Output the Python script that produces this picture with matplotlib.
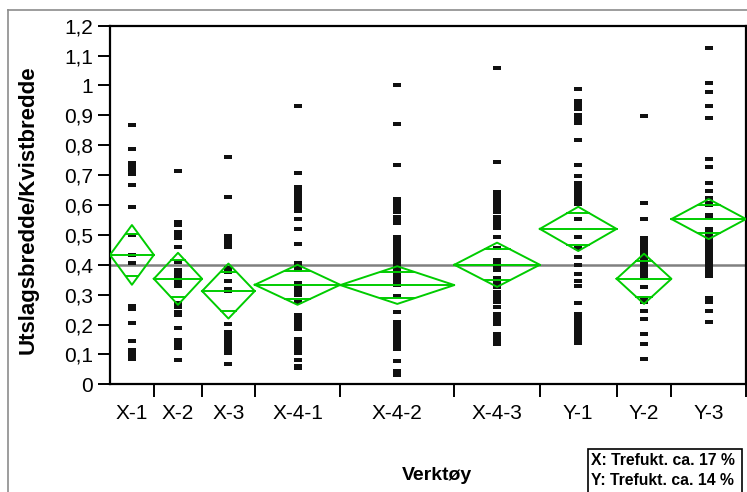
import matplotlib
matplotlib.use("Agg")
import matplotlib.pyplot as plt
import numpy as np
from matplotlib.lines import Line2D
from matplotlib.patches import Rectangle

plt.rcParams['font.family'] = ['Liberation Sans', 'DejaVu Sans']

# --- data ---
groups = ["X-1", "X-2", "X-3", "X-4-1", "X-4-2", "X-4-3", "Y-1", "Y-2", "Y-3"]

x1 = [0.867, 0.787, 0.742, 0.732, 0.722, 0.712, 0.705, 0.666, 0.592, 0.500,
      0.433, 0.405, 0.262, 0.252, 0.206, 0.146, 0.115, 0.104, 0.093, 0.085]
x2 = [0.714, 0.544, 0.533, 0.511, 0.500, 0.489, 0.460, 0.410, 0.383, 0.371,
      0.360, 0.343, 0.330, 0.271, 0.258, 0.243, 0.232, 0.187, 0.148, 0.135,
      0.120, 0.081]
x3 = [0.759, 0.627, 0.496, 0.490, 0.486, 0.472, 0.458, 0.388, 0.381, 0.375,
      0.346, 0.318, 0.313, 0.201, 0.176, 0.165, 0.160, 0.154, 0.143, 0.137,
      0.131, 0.118, 0.104, 0.067]
x41 = [0.932, 0.706, 0.661, 0.650, 0.645, 0.639, 0.628, 0.617, 0.606, 0.594,
       0.581, 0.553, 0.520, 0.469, 0.405, 0.400, 0.394, 0.383, 0.338, 0.327,
       0.320, 0.313, 0.299, 0.277, 0.232, 0.221, 0.215, 0.210, 0.197, 0.185,
       0.152, 0.140, 0.135, 0.129, 0.117, 0.104, 0.081, 0.060, 0.053]
x42 = [1.000, 0.872, 0.733, 0.619, 0.608, 0.603, 0.597, 0.586, 0.580, 0.575,
       0.561, 0.550, 0.539, 0.494, 0.490, 0.483, 0.478, 0.472, 0.461, 0.455,
       0.450, 0.439, 0.432, 0.425, 0.414, 0.408, 0.400, 0.386, 0.379, 0.372,
       0.359, 0.352, 0.345, 0.331, 0.296, 0.243, 0.210, 0.205, 0.199, 0.187,
       0.181, 0.176, 0.165, 0.160, 0.154, 0.143, 0.138, 0.132, 0.118, 0.079,
       0.046, 0.031]
x43 = [1.060, 0.745, 0.645, 0.640, 0.633, 0.622, 0.611, 0.600, 0.595, 0.589,
       0.575, 0.561, 0.550, 0.536, 0.522, 0.494, 0.455, 0.416, 0.410, 0.405,
       0.394, 0.383, 0.355, 0.338, 0.327, 0.308, 0.302, 0.297, 0.286, 0.274,
       0.260, 0.235, 0.224, 0.213, 0.202, 0.168, 0.157, 0.146, 0.135]
y1 = [0.987, 0.948, 0.935, 0.920, 0.901, 0.887, 0.874, 0.818, 0.734, 0.697,
      0.673, 0.662, 0.650, 0.639, 0.628, 0.617, 0.603, 0.553, 0.494, 0.455,
      0.425, 0.399, 0.369, 0.347, 0.329, 0.273, 0.235, 0.224, 0.213, 0.202,
      0.191, 0.180, 0.166, 0.152, 0.139]
y2 = [0.899, 0.607, 0.553, 0.489, 0.477, 0.466, 0.453, 0.442, 0.430, 0.419,
      0.413, 0.408, 0.397, 0.386, 0.375, 0.361, 0.327, 0.288, 0.283, 0.277,
      0.246, 0.219, 0.168, 0.135, 0.085]
y3 = [1.126, 1.007, 0.979, 0.932, 0.892, 0.754, 0.728, 0.673, 0.648, 0.622,
      0.608, 0.600, 0.567, 0.559, 0.520, 0.508, 0.497, 0.486, 0.475, 0.464,
      0.453, 0.441, 0.430, 0.419, 0.408, 0.397, 0.386, 0.375, 0.370, 0.363,
      0.288, 0.277, 0.246, 0.209]
values = [x1, x2, x3, x41, x42, x43, y1, y2, y3]

# means and 95% CI half widths (diamonds)
means = [0.433, 0.353, 0.312, 0.333, 0.332, 0.400, 0.520, 0.353, 0.553]
ci_half = [0.100, 0.087, 0.092, 0.067, 0.063, 0.074, 0.074, 0.084, 0.067]
grand_mean = 0.40

yticks = [0, 0.1, 0.2, 0.3, 0.4, 0.5, 0.6, 0.7, 0.8, 0.9, 1.0, 1.1, 1.2]

# --- figure ---
W, H = 747, 492
fig = plt.figure(figsize=(W / 100, H / 100), dpi=100)
ax = fig.add_axes([110 / W, 1 - 384.3 / H, 636 / W, 358.6 / H])

n = np.array([len(v) for v in values])
right = np.cumsum(n)
left = right - n
center = (left + right) / 2
total = right[-1]

green = '#00cc00'
ax.axhline(grand_mean, color='#808080', lw=1.8, zorder=1)

rect = [(-1, -0.62), (1, -0.62), (1, 0.62), (-1, 0.62), (-1, -0.62)]
for i, vals in enumerate(values):
    ax.plot(np.full(len(vals), center[i]), vals, linestyle='none',
            marker=rect, markersize=5.6, color='#111111', mew=0, zorder=2)

    L, R, c, m, h = left[i], right[i], center[i], means[i], ci_half[i]
    ax.plot([L, c, R, c, L], [m, m + h, m, m - h, m], color=green, lw=1.4, zorder=3)
    ax.plot([L, R], [m, m], color=green, lw=1.4, zorder=3)
    half_w = (R - L) / 2 * (1 - 1 / np.sqrt(2))
    for s in (1, -1):
        ax.plot([c - half_w, c + half_w], [m + s * h / np.sqrt(2)] * 2,
                color=green, lw=1.4, zorder=3)

ax.set_xlim(0, total)
ax.set_ylim(0, 1.2)

ax.set_yticks(yticks)
ax.set_yticklabels([f"{t:g}".replace('.', ',') for t in yticks])
ax.set_xticks(right)
ax.set_xticklabels([])
ax.set_xticks(center, minor=True)
ax.set_xticklabels(groups, minor=True)
ax.tick_params(axis='both', which='major', direction='out', length=9, width=1.4,
               labelsize=15, pad=3)
ax.tick_params(axis='x', which='minor', length=0, labelsize=15, pad=14)
for sp in ax.spines.values():
    sp.set_linewidth(1.6)

ax.set_ylabel("Utslagsbredde/Kvistbredde", fontsize=16, fontweight='bold')
ax.yaxis.set_label_coords(-(110 - 38.5) / 636, 0.486)

fig.text(437 / W, 1 - 480 / H, "Verktøy", fontsize=14, fontweight='bold',
         ha='center', va='baseline')

# outer frame (cut by the image edge)
fig.add_artist(Line2D([7.5 / W, 7.5 / W], [0, 1 - 10 / H], color='#8c8c8c', lw=1.2))
fig.add_artist(Line2D([7.5 / W, 1], [1 - 10 / H, 1 - 10 / H], color='#8c8c8c', lw=1.2))

# note box
fig.add_artist(Rectangle((588 / W, -0.05), (742 - 588) / W, 0.05 + 1 - 449 / H,
                         transform=fig.transFigure, fill=False, ec='black', lw=1.2))
fig.text(591 / W, 1 - 464.7 / H, "X: Trefukt. ca. 17 %", fontsize=11.3,
         fontweight='bold', va='baseline')
fig.text(591 / W, 1 - 485.3 / H, "Y: Trefukt. ca. 14 %", fontsize=11.3,
         fontweight='bold', va='baseline')

fig.savefig("out.png", dpi=100)
